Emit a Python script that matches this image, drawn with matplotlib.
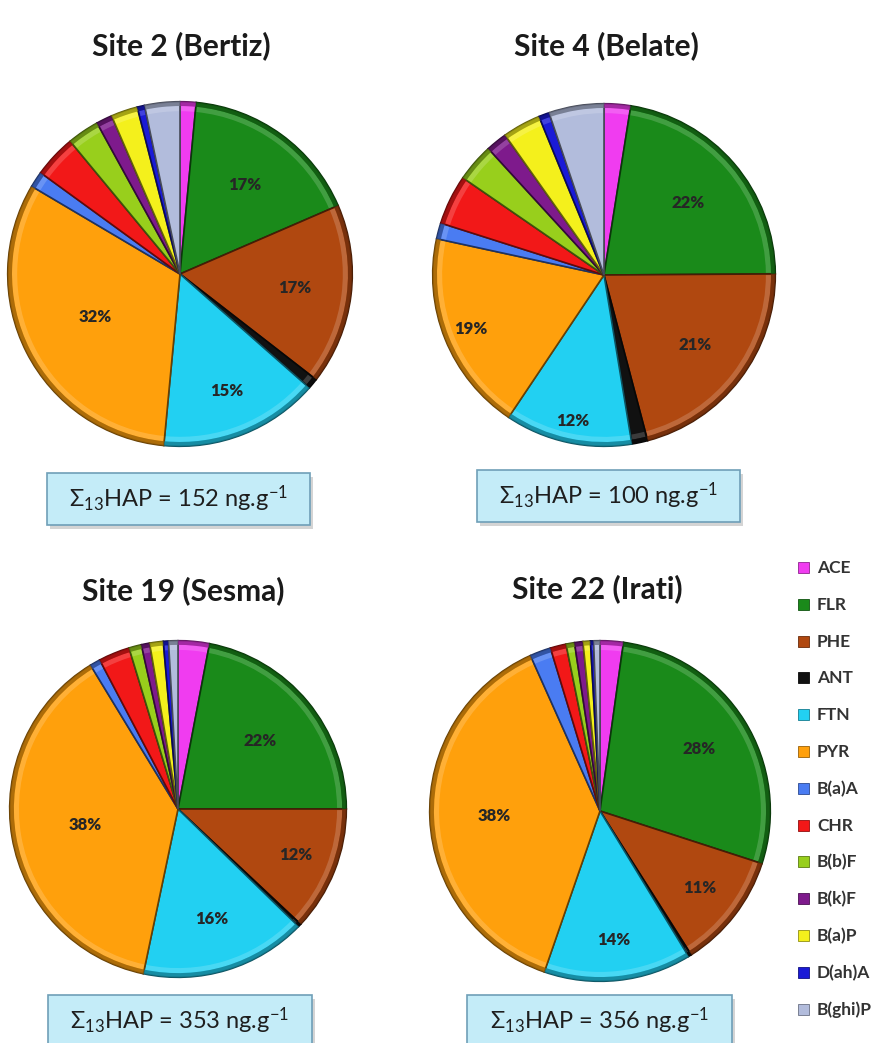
import numpy as np
import matplotlib
matplotlib.use("Agg")
import matplotlib.pyplot as plt
from matplotlib.patches import FancyBboxPatch, Rectangle, Wedge
import matplotlib.colors as mcolors

plt.rcParams['font.family'] = ['Lato', 'DejaVu Sans']
plt.rcParams['mathtext.fontset'] = 'custom'
plt.rcParams['mathtext.rm'] = 'Lato'
plt.rcParams['mathtext.it'] = 'Lato:italic'
plt.rcParams['mathtext.bf'] = 'Lato:bold'

# PAH compounds (legend order, clockwise from 12 o'clock)
compounds = ["ACE", "FLR", "PHE", "ANT", "FTN", "PYR", "B(a)A", "CHR",
             "B(b)F", "B(k)F", "B(a)P", "D(ah)A", "B(ghi)P"]
colors = ["#f03cf0", "#1a8a1a", "#b04810", "#111111", "#22d0f2", "#ffa00c",
          "#4a7cf2", "#f21818", "#98cf1c", "#7e1a8c", "#f4f01c", "#1a1ad6",
          "#b2bcdc"]

# Percent share of each compound per site
site2 = [1.5, 17.0, 17.0, 1.0, 15.0, 32.0, 1.5, 4.0, 3.0, 1.5, 2.5, 0.7, 3.3]
site4 = [2.5, 22.4, 21.0, 1.5, 12.0, 19.0, 1.5, 4.7, 3.6, 2.0, 3.6, 1.0, 5.2]
site19 = [3.0, 22.0, 12.0, 0.3, 16.0, 38.0, 1.0, 3.0, 1.2, 0.8, 1.3, 0.5, 0.9]
site22 = [2.2, 27.8, 11.0, 0.3, 14.0, 38.0, 2.0, 1.5, 0.8, 0.8, 0.7, 0.3, 0.6]

titles = ["Site 2 (Bertiz)", "Site 4 (Belate)", "Site 19 (Sesma)", "Site 22 (Irati)"]
totals = [152, 100, 353, 356]

W, H = 885, 1043
fig = plt.figure(figsize=(W / 100, H / 100), dpi=100)

# pie centre (x, y) and radius in pixels, plus label radial distances
pie_geom = [(180, 274, 174), (604, 275, 173), (178, 809, 170), (600, 811, 172)]
label_dist = [
    {1: 0.64, 2: 0.67, 4: 0.73, 5: 0.55},
    {1: 0.645, 2: 0.67, 4: 0.87, 5: 0.84},
    {1: 0.63, 2: 0.75, 4: 0.68, 5: 0.56},
    {1: 0.69, 2: 0.74, 4: 0.76, 5: 0.62},
]
title_pos = [(181, 46), (606, 46), (183, 591), (597, 589)]
box_geom = [(47, 473, 263, 52), (477, 470, 263, 52), (48, 995, 264, 52), (467, 995, 265, 52)]


def darker(c, f=0.55):
    r, g, b = mcolors.to_rgb(c)
    return (r * f, g * f, b * f)


def lighter(c, f=0.3):
    r, g, b = mcolors.to_rgb(c)
    return (r + (1 - r) * f, g + (1 - g) * f, b + (1 - b) * f)


for k, vals in enumerate([site2, site4, site19, site22]):
    cx, cy, r = pie_geom[k]
    ax = fig.add_axes([(cx - r) / W, (H - cy - r) / H, 2 * r / W, 2 * r / H])
    total = sum(vals)
    wedges, _ = ax.pie(vals, colors=colors, startangle=90, counterclock=False,
                       wedgeprops=dict(edgecolor="#2a2a2a", linewidth=1.2))
    for i, w in enumerate(wedges):
        w.set_edgecolor(darker(colors[i], 0.4))
        # bevelled rim: light band just inside a darker outer edge
        ax.add_patch(Wedge((0, 0), 0.975, w.theta1 + 0.4, w.theta2 - 0.4, width=0.03,
                           facecolor=lighter(colors[i], 0.25), edgecolor="none",
                           alpha=0.7, zorder=3))
        ax.add_patch(Wedge((0, 0), 1.0, w.theta1, w.theta2, width=0.025,
                           facecolor=darker(colors[i], 0.6), edgecolor="none",
                           alpha=0.8, zorder=3))
    for i, d in label_dist[k].items():
        w = wedges[i]
        th = np.deg2rad((w.theta1 + w.theta2) / 2)
        pct = vals[i] / total * 100
        ax.text(d * np.cos(th), d * np.sin(th), f"{pct:.0f}%", ha="center",
                va="center", fontsize=12, fontweight="heavy", color="#262626",
                zorder=5)
    ax.set_xlim(-1.01, 1.01)
    ax.set_ylim(-1.01, 1.01)
    ax.set_aspect("equal")
    ax.axis("off")

    tx, ty = title_pos[k]
    fig.text(tx / W, 1 - ty / H, titles[k], ha="center", va="center",
             fontsize=21.5, fontweight="bold", color="#1a1a1a")

    bx, by, bw, bh = box_geom[k]
    shadow = FancyBboxPatch(((bx + 3) / W, 1 - (by + bh + 4) / H), bw / W, bh / H,
                            boxstyle="square,pad=0", transform=fig.transFigure,
                            facecolor="#b8b8b8", edgecolor="none", alpha=0.6)
    box = FancyBboxPatch((bx / W, 1 - (by + bh) / H), bw / W, bh / H,
                         boxstyle="square,pad=0", transform=fig.transFigure,
                         facecolor="#c4ecf8", edgecolor="#6f9fb8", linewidth=1.2)
    fig.add_artist(shadow)
    fig.add_artist(box)
    fig.text((bx + bw / 2) / W, 1 - (by + bh / 2) / H,
             r"Σ$_{\mathrm{13}}$HAP = " + f"{totals[k]}" + r" ng.g$^{\mathrm{-1}}$",
             ha="center", va="center", fontsize=17, color="#1e1e1e")

# legend
leg_x, leg_y0, leg_dy = 798, 568, 36.8
for i, (name, c) in enumerate(zip(compounds, colors)):
    y = leg_y0 + i * leg_dy
    fig.add_artist(Rectangle((leg_x / W, 1 - (y + 5) / H), 11 / W, 11 / H,
                             transform=fig.transFigure, facecolor=c,
                             edgecolor=darker(c, 0.6), linewidth=0.6))
    fig.text((leg_x + 19) / W, 1 - y / H, name, ha="left", va="center",
             fontsize=12.5, fontweight="bold", color="#333333")

fig.savefig("out.png", dpi=100)
